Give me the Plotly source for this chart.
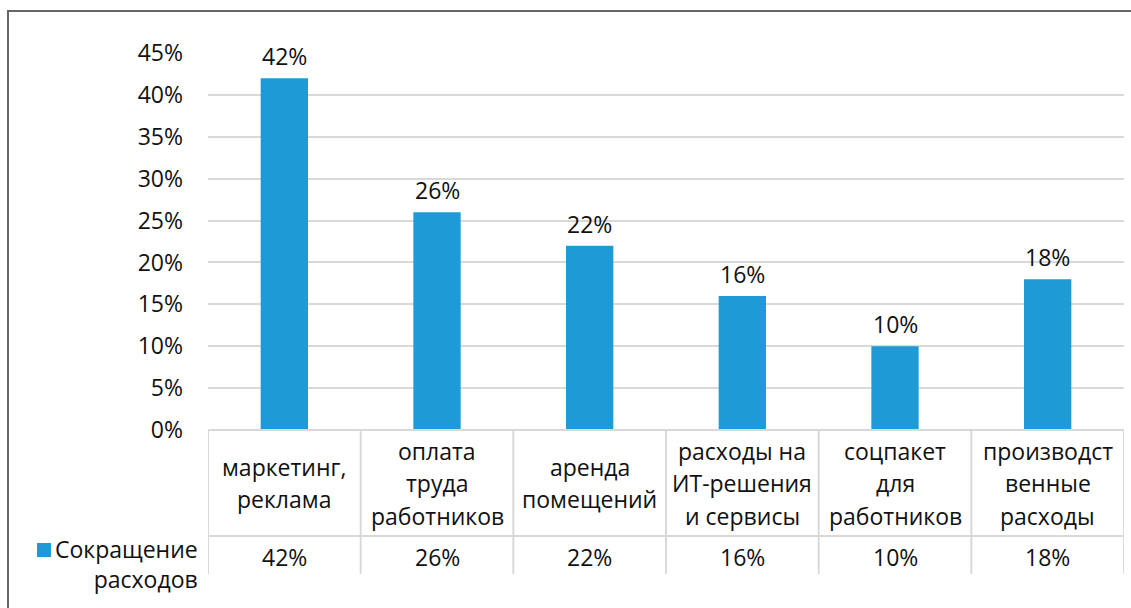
import plotly.graph_objects as go

# data
categories = ["маркетинг, реклама", "оплата труда работников", "аренда помещений",
              "расходы на ИТ-решения и сервисы", "соцпакет для работников",
              "производственные расходы"]
header_lines = [
    ["маркетинг,", "реклама"],
    ["оплата", "труда", "работников"],
    ["аренда", "помещений"],
    ["расходы на", "ИТ-решения", "и сервисы"],
    ["соцпакет", "для", "работников"],
    ["производст", "венные", "расходы"],
]
values = [0.42, 0.26, 0.22, 0.16, 0.10, 0.18]
series_name = ["Сокращение", "расходов"]
y_ticks = [0, 0.05, 0.10, 0.15, 0.20, 0.25, 0.30, 0.35, 0.40, 0.45]

bar_color = "#1E9BD7"
grid_color = "#D9D9D9"
text_color = "#111111"
font_family = "Open Sans, DejaVu Sans, sans-serif"
fsize = 23

W, H = 1131, 608
plot_left, plot_right = 208, 1124
plot_top, plot_bottom = 53, 430


def py(px):
    # pixel row -> paper y
    return (plot_bottom - px) / (plot_bottom - plot_top)


def pxp(px):
    # pixel column -> paper x
    return (px - plot_left) / (plot_right - plot_left)


x_idx = list(range(len(categories)))

fig = go.Figure()
fig.add_trace(go.Bar(x=x_idx, y=values, marker_color=bar_color,
                     marker_line_width=0, name=" ".join(series_name),
                     showlegend=False, hoverinfo="skip"))

annotations = []
shapes = []

# data labels above the bars
for i, v in zip(x_idx, values):
    annotations.append(dict(x=i, y=v, xref="x", yref="y", text=f"{round(v * 100)}%",
                            showarrow=False, yanchor="bottom", yshift=4,
                            font=dict(size=fsize, color=text_color)))

# data table under the chart
row1_top, row1_bot, row2_bot = 430, 536, 574
row1_mid = (row1_top + row1_bot) / 2
row2_mid = 557
line_step = 32.5

for i, lines in enumerate(header_lines):
    n = len(lines)
    for k, ln in enumerate(lines):
        yc = row1_mid + (k - (n - 1) / 2) * line_step
        annotations.append(dict(x=i, y=py(yc), xref="x", yref="paper", text=ln,
                                showarrow=False, yanchor="middle", xanchor="center",
                                font=dict(size=fsize, color=text_color)))
    annotations.append(dict(x=i, y=py(row2_mid), xref="x", yref="paper",
                            text=f"{round(values[i] * 100)}%", showarrow=False,
                            yanchor="middle", font=dict(size=fsize, color=text_color)))

# table grid
for k in range(len(categories) + 1):
    shapes.append(dict(type="line", xref="x", yref="paper", x0=k - 0.5, x1=k - 0.5,
                       y0=py(row1_top), y1=py(row2_bot),
                       line=dict(color=grid_color, width=2)))
for yy in (row1_top, row1_bot):
    shapes.append(dict(type="line", xref="paper", yref="paper", x0=0, x1=1,
                       y0=py(yy), y1=py(yy), line=dict(color=grid_color, width=2)))

# legend key + series name
shapes.append(dict(type="rect", xref="paper", yref="paper",
                   x0=pxp(37), x1=pxp(51), y0=py(557), y1=py(543),
                   fillcolor=bar_color, line=dict(width=0)))
annotations.append(dict(x=pxp(200), y=py(564), xref="paper", yref="paper",
                        text="<br>".join(series_name), showarrow=False,
                        xanchor="right", align="right", yanchor="middle",
                        font=dict(size=fsize, color=text_color)))

# chart frame (cut off at right and bottom)
shapes.append(dict(type="rect", xref="paper", yref="paper",
                   x0=pxp(8), x1=pxp(1140), y0=py(620), y1=py(11),
                   line=dict(color="#666666", width=2), fillcolor="rgba(0,0,0,0)"))

fig.update_layout(
    width=W, height=H,
    margin=dict(l=plot_left, r=W - plot_right, t=plot_top, b=H - plot_bottom, pad=0),
    paper_bgcolor="white", plot_bgcolor="white",
    font=dict(family=font_family, size=fsize, color=text_color),
    bargap=0.69,
    showlegend=False,
    annotations=annotations,
    shapes=shapes,
)
fig.update_xaxes(range=[-0.5, len(categories) - 0.5], showticklabels=False,
                 showgrid=False, zeroline=False, showline=False, fixedrange=True)
fig.update_yaxes(range=[0, 0.45], tickvals=y_ticks,
                 ticktext=[f"{round(t * 100)}%" for t in y_ticks],
                 showgrid=True, gridcolor=grid_color, gridwidth=2,
                 zeroline=False, showline=False, ticks="", ticklabelstandoff=24,
                 tickfont=dict(size=fsize, color=text_color), fixedrange=True)

# page has a default 8px body margin; drop it so the figure fills the window
fig.write_html("out.html", config={"displayModeBar": False},
               post_script="document.body.style.margin='0';"
                           "document.body.style.overflow='hidden';")
